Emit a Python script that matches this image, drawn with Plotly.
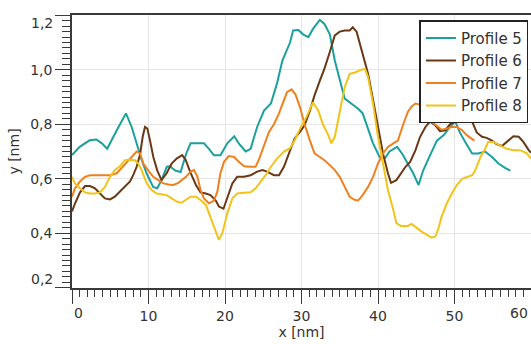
import plotly.graph_objects as go

# ---- data ----
x5 = [0, 1.0, 2.3, 3.2, 3.9, 4.6, 5.8, 7.05, 7.8, 8.45, 9.1, 9.75, 10.6, 11.15, 11.7, 12.4, 12.8, 13.5,
      14.2, 14.9, 15.5, 16.4, 17.25, 17.9, 18.55, 19.4, 20.3, 21.2, 21.8, 22.7, 23.35, 24.2, 25.1, 26.0,
      26.8, 27.5, 28.5, 28.9, 29.6, 30.2, 30.9, 31.5, 32.4, 33.0, 33.7, 34.35, 35.0, 35.65, 36.5, 37.4,
      38.0, 38.7, 39.35, 40.2, 40.9, 41.5, 42.5, 43.2, 43.9, 44.6, 45.3, 45.9, 46.8, 47.7, 48.6, 49.4,
      50.1, 50.7, 51.4, 52.3, 53.1, 54.0, 54.9, 55.75, 56.6, 57.3]
y5 = [0.687, 0.717, 0.741, 0.744, 0.73, 0.71, 0.775, 0.84, 0.79, 0.73, 0.67, 0.62, 0.57, 0.565, 0.595, 0.644, 0.646, 0.63,
      0.625, 0.69, 0.73, 0.73, 0.73, 0.71, 0.686, 0.686, 0.73, 0.756, 0.73, 0.70, 0.71, 0.79, 0.85, 0.876,
      0.95, 1.034, 1.10, 1.144, 1.146, 1.13, 1.12, 1.15, 1.183, 1.168, 1.13, 1.034, 0.96, 0.894, 0.876, 0.857,
      0.84, 0.78, 0.73, 0.68, 0.675, 0.70, 0.717, 0.69, 0.655, 0.62, 0.577, 0.63, 0.686, 0.74, 0.76, 0.79,
      0.81, 0.77, 0.735, 0.693, 0.693, 0.70, 0.68, 0.656, 0.64, 0.63]

x6 = [0, 0.4, 1.05, 1.7, 2.35, 3.0, 3.66, 4.3, 4.97, 5.6, 6.27, 6.93, 7.58, 8.0, 8.45, 8.9, 9.24, 9.54, 9.85,
      10.2, 10.63, 11.15, 11.7, 12.37, 13.03, 13.68, 14.4, 14.85, 15.45, 16.2, 16.8, 17.5, 18.1, 18.8, 19.2,
      19.8, 20.3, 20.96, 21.6, 22.5, 23.35, 24.2, 24.9, 25.5, 26.4, 27.06, 27.7, 28.4, 29.1, 29.8, 30.4,
      31.1, 31.7, 32.4, 33.0, 33.7, 34.35, 35.0, 35.65, 36.3, 36.7, 37.2, 37.6, 38.0, 38.7, 39.35, 40.0,
      40.65, 41.3, 41.7, 42.4, 43.0, 43.6, 44.2, 44.9, 45.5, 46.2, 46.8, 47.5, 48.1, 48.8, 49.4, 50.1,
      50.7, 51.4, 52.3, 52.9, 53.6, 54.2, 54.9, 55.5, 56.2, 56.8, 57.7, 58.4, 59.0, 59.7, 60.0]
y6 = [0.48, 0.51, 0.55, 0.573, 0.573, 0.565, 0.546, 0.528, 0.524, 0.534, 0.553, 0.57, 0.59, 0.613, 0.644, 0.69, 0.754, 0.79, 0.784,
      0.74, 0.68, 0.63, 0.595, 0.62, 0.656, 0.674, 0.687, 0.67, 0.625, 0.577, 0.55, 0.546, 0.54, 0.52, 0.498,
      0.49, 0.534, 0.583, 0.607, 0.607, 0.613, 0.626, 0.632, 0.626, 0.613, 0.613, 0.644, 0.70, 0.748, 0.772, 0.796,
      0.85, 0.906, 0.96, 1.004, 1.065, 1.126, 1.14, 1.144, 1.144, 1.156, 1.14, 1.10, 1.059, 0.985, 0.89, 0.79,
      0.693, 0.62, 0.585, 0.595, 0.618, 0.644, 0.662, 0.705, 0.754, 0.79, 0.81, 0.796, 0.775, 0.778, 0.80, 0.81,
      0.827, 0.85, 0.81, 0.77, 0.754, 0.75, 0.74, 0.727, 0.72, 0.735, 0.756, 0.754, 0.735, 0.705, 0.695]

x7 = [0, 0.39, 1.05, 1.7, 2.35, 4.97, 5.84, 6.5, 7.15, 7.8, 8.45, 8.9, 9.32, 9.98, 10.63, 11.29, 11.94, 12.6,
      13.25, 13.9, 14.55, 14.9, 15.5, 15.95, 16.4, 16.8, 17.25, 17.9, 18.56, 19.0, 19.4, 19.87, 20.5, 21.2,
      21.8, 22.5, 23.35, 24.0, 24.4, 25.1, 25.75, 26.4, 27.06, 27.7, 28.1, 28.7, 29.2, 29.8, 30.4, 31.1,
      31.7, 32.4, 33.0, 33.7, 34.35, 35.0, 35.65, 36.3, 37.0, 37.4, 38.0, 38.7, 39.35, 40.0, 40.65, 41.3,
      42.0, 42.6, 43.3, 43.9, 44.4, 44.9, 45.5, 46.2, 47.0, 47.7, 48.3, 49.0, 49.65, 50.3, 51.0, 51.6,
      52.3, 52.6]
y7 = [0.534, 0.565, 0.59, 0.607, 0.613, 0.613, 0.62, 0.641, 0.662, 0.683, 0.70, 0.693, 0.656, 0.63, 0.607, 0.595, 0.583, 0.579,
      0.577, 0.585, 0.60, 0.607, 0.626, 0.632, 0.607, 0.559, 0.528, 0.51, 0.52, 0.553, 0.62, 0.662, 0.683, 0.68,
      0.662, 0.646, 0.644, 0.644, 0.668, 0.723, 0.772, 0.80, 0.84, 0.888, 0.918, 0.928, 0.91, 0.863, 0.80, 0.74,
      0.693, 0.68, 0.668, 0.65, 0.632, 0.607, 0.57, 0.534, 0.522, 0.52, 0.54, 0.57, 0.607, 0.656, 0.693, 0.717,
      0.73, 0.74, 0.80, 0.845, 0.865, 0.876, 0.872, 0.86, 0.81, 0.795, 0.78, 0.784, 0.79, 0.79, 0.778, 0.76,
      0.744, 0.74]

x8 = [0, 0.39, 1.05, 1.7, 2.35, 3.0, 3.66, 4.3, 4.97, 5.6, 6.27, 6.93, 7.58, 8.24, 8.67, 9.1, 9.76, 10.4,
      11.07, 11.7, 12.37, 13.03, 13.68, 14.3, 14.9, 15.5, 16.2, 16.8, 17.5, 18.1, 18.8, 19.2, 19.65, 20.3,
      20.96, 21.6, 22.5, 23.35, 24.0, 24.7, 25.3, 26.0, 26.8, 27.7, 28.5, 29.1, 29.8, 30.65, 31.5, 32.2,
      32.8, 33.5, 33.9, 34.35, 35.0, 35.65, 36.3, 37.0, 37.6, 38.3, 38.7, 39.35, 40.0, 40.65, 41.3, 42.0,
      42.4, 43.0, 43.9, 44.4, 45.1, 45.7, 46.4, 47.0, 47.5, 47.9, 48.3, 49.0, 49.65, 50.3, 51.0, 51.6,
      52.3, 52.7, 53.4, 54.0, 54.4, 55.1, 56.0, 56.8, 57.7, 58.6, 59.45, 60.0]
y8 = [0.607, 0.583, 0.565, 0.55, 0.546, 0.546, 0.55, 0.57, 0.607, 0.632, 0.646, 0.668, 0.67, 0.668, 0.656, 0.632, 0.583, 0.559,
      0.546, 0.543, 0.54, 0.528, 0.516, 0.512, 0.522, 0.534, 0.534, 0.522, 0.504, 0.461, 0.412, 0.376, 0.40, 0.473,
      0.528, 0.546, 0.549, 0.55, 0.565, 0.59, 0.613, 0.644, 0.674, 0.70, 0.712, 0.74, 0.784, 0.827, 0.88, 0.85,
      0.80, 0.76, 0.73, 0.754, 0.85, 0.937, 0.985, 0.99, 0.998, 1.004, 0.973, 0.876, 0.754, 0.656, 0.559, 0.485,
      0.437, 0.427, 0.427, 0.434, 0.418, 0.406, 0.394, 0.384, 0.388, 0.418, 0.46, 0.51, 0.546, 0.577, 0.60, 0.607,
      0.613, 0.63, 0.68, 0.71, 0.735, 0.735, 0.723, 0.71, 0.705, 0.705, 0.693, 0.674]

names = ["Profile 5", "Profile 6", "Profile 7", "Profile 8"]
colors = ["#1ba19d", "#6b3815", "#f0801e", "#f2c41a"]
x_ticks = [0, 10, 20, 30, 40, 50, 60]
y_ticks = [0.2, 0.4, 0.6, 0.8, 1.0, 1.2]

series = [(x5, y5), (x6, y6), (x7, y7), (x8, y8)]

fig = go.Figure()
for (xs, ys), nm, c in zip(series, names, colors):
    fig.add_trace(go.Scatter(x=xs, y=ys, mode="lines", name=nm,
                             line=dict(color=c, width=2)))

axis_col = "#3a3a3a"
txt_col = "#333333"
fig.update_layout(
    width=531, height=344,
    margin=dict(l=72, r=0, t=15, b=56, autoexpand=False),
    paper_bgcolor="white", plot_bgcolor="white",
    separators=", ",
    font=dict(family="DejaVu Sans", size=14, color=txt_col),
    showlegend=True,
    legend=dict(x=0.757, y=0.981, xanchor="left", yanchor="top",
                bgcolor="white", bordercolor="#222222", borderwidth=1.5,
                itemwidth=30, tracegroupgap=0,
                font=dict(size=15, color=txt_col)),
)
# edge tick labels are drawn as annotations (nudged inward, as in the reference)
x_edge = (x_ticks[0], x_ticks[-1])
y_edge = (y_ticks[0], y_ticks[-1])
fig.update_xaxes(
    range=[0, 60], tickvals=x_ticks,
    ticktext=["" if v in x_edge else str(v) for v in x_ticks],
    automargin=False,
    showline=True, linecolor=axis_col, linewidth=1.5, mirror=True,
    ticks="outside", ticklen=14, tickwidth=1.2, tickcolor=axis_col,
    showgrid=True, gridcolor="#e6e6e6", gridwidth=1, zeroline=False,
    minor=dict(dtick=1, ticks="outside", ticklen=7, tickwidth=1.2, tickcolor=axis_col, showgrid=False),
    title=dict(text="x [nm]", standoff=3, font=dict(size=14)),
)
fig.update_yaxes(
    range=[0.199, 1.201], tickvals=y_ticks,
    ticktext=["" if v in y_edge else f"{v:.1f}".replace(".", ",") for v in y_ticks],
    automargin=False,
    showline=True, linecolor=axis_col, linewidth=1.5, mirror=True,
    ticks="outside", ticklen=15, tickwidth=1.2, tickcolor=axis_col,
    showgrid=True, gridcolor="#e6e6e6", gridwidth=1, zeroline=False,
    minor=dict(dtick=0.02, tick0=0.2, ticks="outside", ticklen=8, tickwidth=1.2, tickcolor=axis_col, showgrid=False),
    title=dict(text="y [nm]", standoff=7, font=dict(size=14)),
)
fig.add_annotation(x=x_edge[0], y=0, xref="x", yref="paper", text=str(x_edge[0]), showarrow=False,
                   xanchor="left", yanchor="top", yshift=-15, xshift=0,
                   font=dict(size=14, color=txt_col))
fig.add_annotation(x=x_edge[1], y=0, xref="x", yref="paper", text=str(x_edge[1]), showarrow=False,
                   xanchor="right", yanchor="top", yshift=-15, xshift=-1,
                   font=dict(size=14, color=txt_col))
fig.add_annotation(x=0, y=y_edge[0], xref="paper", yref="y", text=f"{y_edge[0]:.1f}".replace(".", ","),
                   showarrow=False, xanchor="right", yanchor="middle", xshift=-17, yshift=9,
                   font=dict(size=14, color=txt_col))
fig.add_annotation(x=0, y=y_edge[1], xref="paper", yref="y", text=f"{y_edge[1]:.1f}".replace(".", ","),
                   showarrow=False, xanchor="right", yanchor="middle", xshift=-17, yshift=-8,
                   font=dict(size=14, color=txt_col))
fig.write_html("out.html", config={"displayModeBar": False},
               post_script="document.body.style.margin='0px';")
